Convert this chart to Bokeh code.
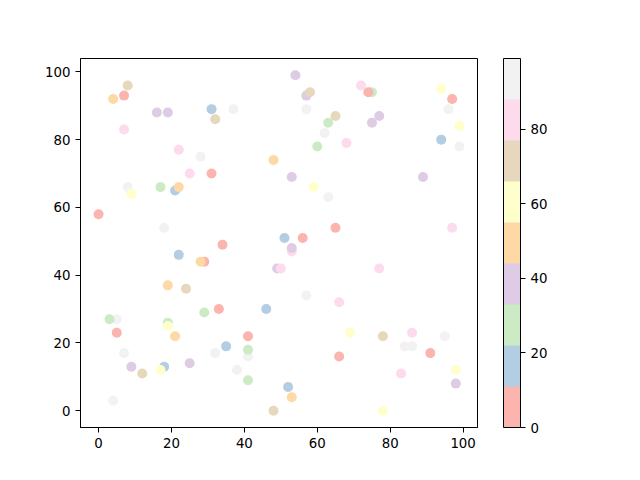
from bokeh.plotting import figure
from bokeh.models import ColumnDataSource, LinearColorMapper, ColorBar, FixedTicker, Range1d
from bokeh.transform import transform
from bokeh.embed import file_html
from bokeh.resources import INLINE

# Pastel1 colormap
palette = ["#fbb4ae", "#b3cde3", "#ccebc5", "#decbe4", "#fed9a6",
           "#ffffcc", "#e5d8bd", "#fddaec", "#f2f2f2"]

# representative colour value per colour band
band_value = {"red": 5, "blue": 16, "green": 27, "purple": 38, "orange": 49,
              "yellow": 60, "tan": 71, "pink": 82, "gray": 93}

x_vals = [8, 4, 7, 16, 19, 31, 37, 32, 7, 22,
          28, 48, 25, 31, 8, 9, 17, 21, 22, 0,
          18, 34, 51, 54, 57, 58, 57, 65, 63, 62,
          60, 68, 72, 75, 74, 77, 75, 94, 97, 96,
          99, 94, 99, 53, 59, 63, 89, 65, 97, 56,
          53, 53, 22, 29, 28, 49, 50, 19, 24, 29,
          33, 46, 5, 3, 5, 19, 19, 21, 41, 41,
          41, 41, 7, 32, 35, 9, 12, 18, 17, 25,
          38, 4, 48, 77, 57, 66, 69, 78, 86, 84,
          86, 95, 91, 66, 83, 98, 98, 52, 53, 78]

y_vals = [96, 92, 93, 88, 88, 89, 89, 86, 83, 77,
          75, 74, 70, 70, 66, 64, 66, 65, 66, 58,
          54, 49, 51, 99, 93, 94, 89, 87, 85, 82,
          78, 79, 96, 94, 94, 87, 85, 95, 92, 89,
          84, 80, 78, 69, 66, 63, 69, 54, 54, 51,
          47, 48, 46, 44, 44, 42, 42, 37, 36, 29,
          30, 30, 27, 27, 23, 26, 25, 22, 22, 16,
          18, 9, 17, 17, 19, 13, 11, 13, 12, 14,
          12, 3, 0, 42, 34, 32, 23, 22, 23, 19,
          19, 22, 17, 16, 11, 12, 8, 7, 4, 0]

c_names = ["tan", "orange", "red", "purple", "purple", "blue", "gray", "tan", "pink", "pink",
           "gray", "orange", "pink", "red", "gray", "yellow", "green", "blue", "orange", "red",
           "gray", "red", "blue", "purple", "purple", "tan", "gray", "tan", "green", "gray",
           "green", "pink", "pink", "green", "red", "purple", "purple", "yellow", "red", "gray",
           "yellow", "blue", "gray", "purple", "yellow", "gray", "purple", "red", "pink", "red",
           "pink", "purple", "blue", "red", "orange", "purple", "pink", "orange", "tan", "green",
           "red", "blue", "gray", "green", "red", "green", "yellow", "orange", "red", "gray",
           "green", "green", "gray", "gray", "blue", "purple", "tan", "blue", "yellow", "purple",
           "gray", "gray", "tan", "pink", "gray", "pink", "yellow", "tan", "pink", "gray",
           "gray", "gray", "red", "red", "pink", "yellow", "purple", "blue", "orange", "yellow"]

c_vals = [band_value[n] for n in c_names]

x_ticks = [0, 20, 40, 60, 80, 100]
y_ticks = [0, 20, 40, 60, 80, 100]
cbar_ticks = [0, 20, 40, 60, 80]

source = ColumnDataSource(dict(x=x_vals, y=y_vals, c=c_vals))
mapper = LinearColorMapper(palette=palette, low=0, high=99)

p = figure(frame_width=397, frame_height=369, min_border_left=80, min_border_top=58,
           min_border_bottom=53, min_border_right=163,
           x_range=Range1d(-4.95, 103.95), y_range=Range1d(-4.95, 103.95),
           output_backend="svg", toolbar_location=None)

p.scatter("x", "y", source=source, size=10, line_color=None,
          fill_color=transform("c", mapper))

p.grid.visible = False
p.outline_line_color = "black"
p.outline_line_width = 1
p.outline_line_alpha = 1
for ax, ticks in ((p.xaxis, x_ticks), (p.yaxis, y_ticks)):
    ax.ticker = FixedTicker(ticks=ticks)
    ax.axis_line_color = "black"
    ax.major_tick_line_color = "black"
    ax.major_tick_in = 0
    ax.major_tick_out = 5
    ax.minor_tick_line_color = None
    ax.major_label_text_font = "DejaVu Sans"
    ax.major_label_text_font_size = "10pt"
    ax.major_label_text_color = "black"
    ax.major_label_standoff = 5

cb = ColorBar(color_mapper=mapper, ticker=FixedTicker(ticks=cbar_ticks),
              location=(423, 0), width=17, height=369, padding=0, margin=0,
              bar_line_color="black", bar_line_width=1,
              major_tick_line_color="black", major_tick_in=0, major_tick_out=5,
              major_label_text_font="DejaVu Sans", major_label_text_font_size="10pt",
              major_label_text_color="black", label_standoff=5,
              background_fill_color=None, border_line_color=None)
p.add_layout(cb)

open("out.html", "w").write(file_html(p, INLINE))
